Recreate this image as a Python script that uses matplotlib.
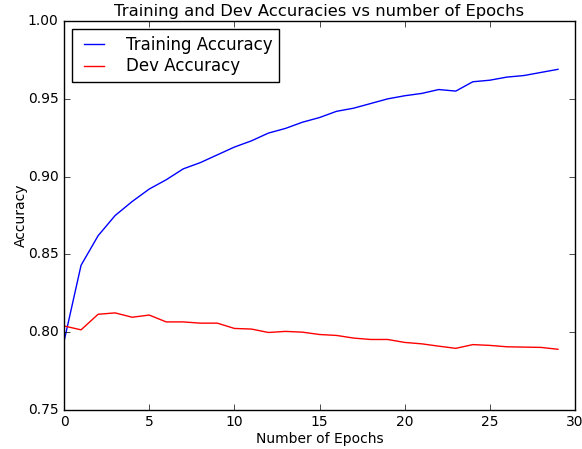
import numpy as np
import matplotlib
matplotlib.use("Agg")
import matplotlib.pyplot as plt

plt.style.use('classic')
plt.rcParams['xtick.labelsize'] = 10
plt.rcParams['ytick.labelsize'] = 10
plt.rcParams['axes.labelsize'] = 10

epochs = np.arange(30)
train_acc = [0.794, 0.843, 0.862, 0.875, 0.884, 0.892, 0.898, 0.905, 0.909, 0.914,
             0.919, 0.923, 0.928, 0.931, 0.935, 0.938, 0.942, 0.944, 0.947, 0.950,
             0.952, 0.9535, 0.956, 0.955, 0.961, 0.962, 0.964, 0.965, 0.967, 0.969]
dev_acc = [0.804, 0.8015, 0.8115, 0.8124, 0.8096, 0.811, 0.8066, 0.8066, 0.8058, 0.8058,
           0.8024, 0.802, 0.7998, 0.8005, 0.8, 0.7985, 0.7979, 0.7962, 0.7953, 0.7953,
           0.7934, 0.7925, 0.791, 0.7896, 0.792, 0.7915, 0.7906, 0.7904, 0.7902, 0.789]

fig = plt.figure(figsize=(5.82, 4.49), dpi=100)
ax = fig.add_axes([0.110, 0.087, 0.878, 0.866])

ax.plot(epochs, train_acc, color='b', label='Training Accuracy')
ax.plot(epochs, dev_acc, color='r', label='Dev Accuracy')

ax.set_xlim(0, 30)
ax.set_ylim(0.75, 1.0)
ax.set_xlabel('Number of Epochs', labelpad=2)
ax.set_ylabel('Accuracy', labelpad=0)
ax.set_title('Training and Dev Accuracies vs number of Epochs', fontsize=11.8, pad=4)
ax.legend(loc='upper left', fontsize=12, handlelength=1.8, labelspacing=0.2,
          handletextpad=1.0, borderpad=0.4)

fig.savefig('out.png', dpi=100)
